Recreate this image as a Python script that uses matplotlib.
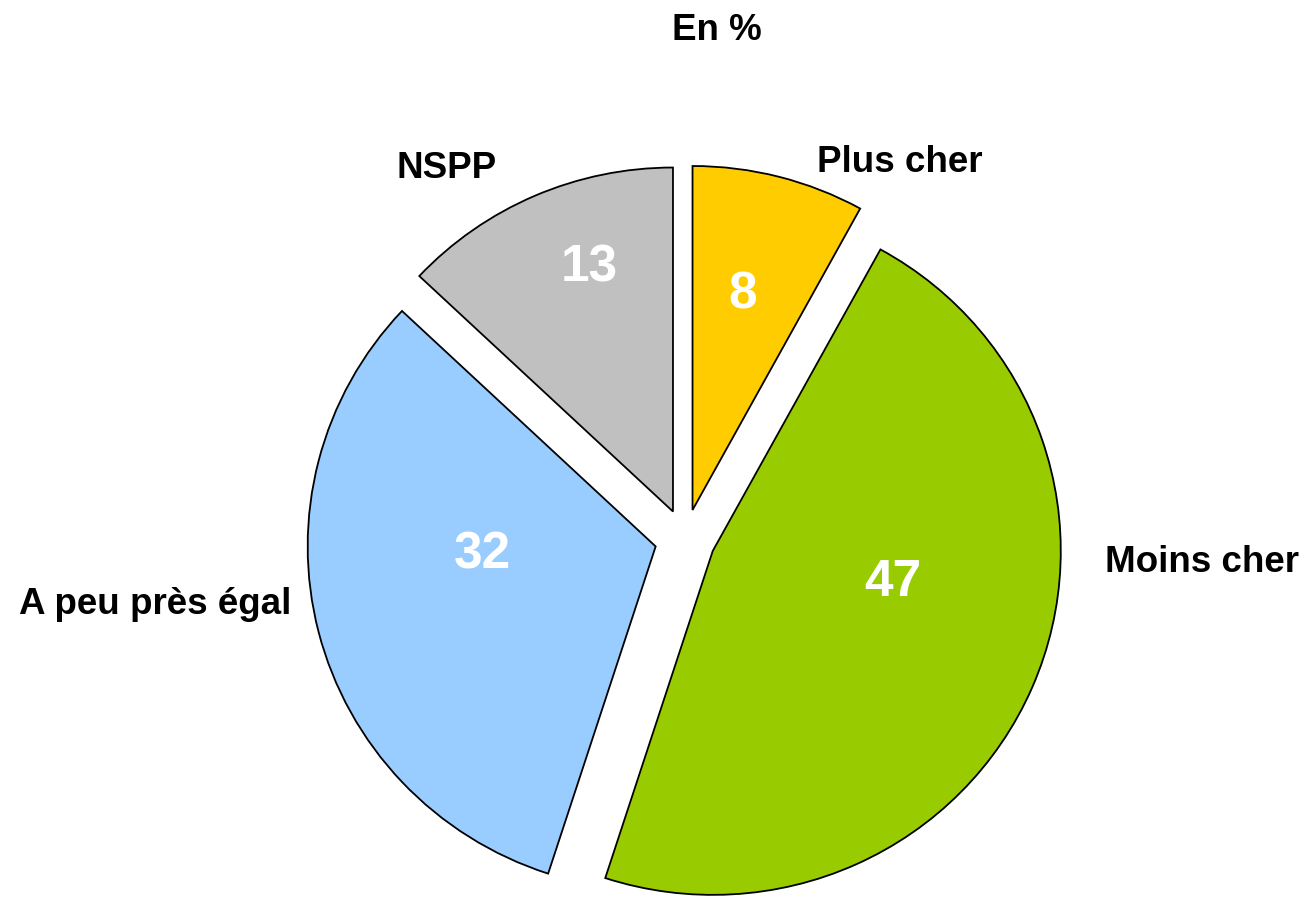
import matplotlib.pyplot as plt

categories = ["Plus cher", "Moins cher", "A peu près égal", "NSPP"]
values = [8, 47, 32, 13]
colors = ["#FFCC00", "#99CC00", "#99CCFF", "#C0C0C0"]

plt.rcParams['font.family'] = ['Liberation Sans', 'DejaVu Sans']

W, H = 1312, 902
cx, cy = 685, 539
rx, ry = 348, 344

fig = plt.figure(figsize=(W / 100, H / 100), dpi=100)
ax = fig.add_axes([0, 0, 1, 1])

wedges, _ = ax.pie(values, colors=colors, startangle=90, counterclock=False,
                   explode=[0.087] * 4,
                   wedgeprops=dict(edgecolor='black', linewidth=1.3))

# pixel -> data
def px(x, y):
    return (x - cx) / rx, (cy - y) / ry

ax.set_xlim((0 - cx) / rx, (W - cx) / rx)
ax.set_ylim((cy - H) / ry, cy / ry)
ax.set_aspect('auto')
ax.axis('off')

label_pos = [(900, 162), (1202, 563), (155, 605), (447, 168)]
for name, (x, y) in zip(categories, label_pos):
    ax.text(*px(x, y), name, ha='center', va='center', fontsize=26.5, fontweight='bold')

num_pos = [(743, 295), (893, 583), (482, 555), (589, 268)]
for v, (x, y) in zip(values, num_pos):
    ax.text(*px(x, y), str(v), ha='center', va='center', fontsize=37,
            fontweight='bold', color='white')

ax.text(*px(717, 30), "En %", ha='center', va='center', fontsize=26.5, fontweight='bold')

fig.savefig("out.png", dpi=100)
